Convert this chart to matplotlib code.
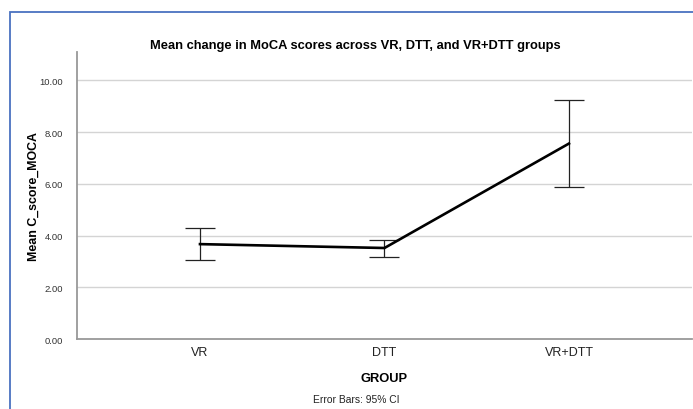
import matplotlib
matplotlib.use("Agg")
import matplotlib.pyplot as plt
from matplotlib.patches import Rectangle

plt.rcParams['font.family'] = ['Liberation Sans', 'DejaVu Sans']

# data (mean change and 95% CI)
groups = ["VR", "DTT", "VR+DTT"]
means = [3.67, 3.52, 7.56]
ci_low = [3.05, 3.18, 5.89]
ci_high = [4.28, 3.84, 9.26]
yticks = [0, 2, 4, 6, 8, 10]

fig = plt.figure(figsize=(6.93, 4.10), dpi=100)
ax = fig.add_axes([0.111, 0.1707, 0.8876, 0.70])

x = list(range(len(groups)))
err_lo = [m - l for m, l in zip(means, ci_low)]
err_hi = [h - m for m, h in zip(means, ci_high)]

ax.errorbar(x, means, yerr=[err_lo, err_hi], fmt='none', ecolor='#222222',
            elinewidth=0.9, capsize=10.8, capthick=0.9, zorder=3)
ax.plot(x, means, color='black', linewidth=1.9, zorder=4)

ax.set_xlim(-0.667, 2.667)
ax.set_ylim(0, 11.1)
ax.set_yticks(yticks)
ax.set_yticklabels([f"{v:.2f}" for v in yticks], fontsize=6.8, color='#333333')
ax.set_xticks(x)
ax.set_xticklabels(groups, fontsize=9, color='#222222')
ax.tick_params(axis='y', length=0, pad=10)
ax.tick_params(axis='x', length=0, pad=5)

ax.yaxis.grid(True, color='#d4d4d4', linewidth=1.0)
ax.set_axisbelow(True)
for side in ['top', 'right']:
    ax.spines[side].set_visible(False)
for side in ['left', 'bottom']:
    ax.spines[side].set_color('#999999')
    ax.spines[side].set_linewidth(1.3)

ax.set_xlabel("GROUP", fontsize=9.3, fontweight='bold', labelpad=10)
ax.set_ylabel("Mean C_score_MOCA", fontsize=8.9, fontweight='bold')
ax.yaxis.set_label_coords(-0.061, 0.5)

fig.text(0.512, 0.888, "Mean change in MoCA scores across VR, DTT, and VR+DTT groups",
         ha='center', va='center', fontsize=9.3, fontweight='bold')
fig.text(0.514, 0.024, "Error Bars: 95% CI", ha='center', va='center',
         fontsize=7.4, color='#222222')

# blue frame around the chart (cut off on right/bottom as in source)
fig.patches.append(Rectangle((10 / 693, -0.05), 1.2, 1 - 13 / 410 + 0.05,
                             transform=fig.transFigure, fill=False,
                             edgecolor='#4a72c0', linewidth=1.3))

fig.savefig("out.png", dpi=100)
